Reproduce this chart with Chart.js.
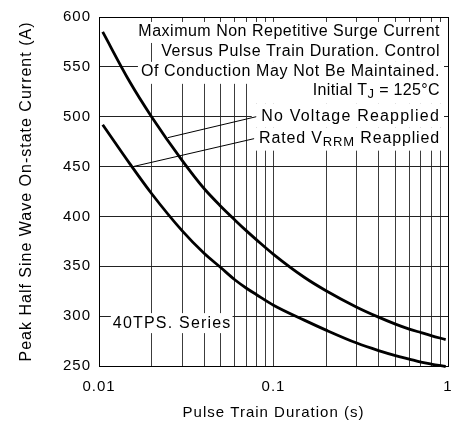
<!DOCTYPE html>
<html>
<head>
<meta charset="utf-8">
<script src="https://cdn.jsdelivr.net/npm/chart.js@4.4.0/dist/chart.umd.min.js"></script>
<style>
  html, body { margin: 0; padding: 0; background: #fff; }
</style>
</head>
<body>
<canvas id="surgeCanvas" width="454" height="427" style="width:454px;height:427px;display:block"></canvas>
<script>
/* ===== SURGE CURRENT CHART ===== */

// Datos
const pulseDuration    = [0.0105, 0.015, 0.02, 0.03, 0.04, 0.05, 0.06, 0.07, 0.08, 0.1, 0.15, 0.2, 0.3, 0.4, 0.5, 0.6, 0.7, 0.8, 0.97];
const noVoltageCurrent = [585, 535, 500, 456, 428, 410, 396.5, 385.5, 376.5, 362, 339, 325.5, 309, 299, 292, 287, 283.5, 280.5, 276.5];
const ratedVrrmCurrent = [492, 453, 423, 385.5, 363, 348.5, 336.5, 328, 321.5, 311, 296, 286, 273, 265.5, 260.5, 257, 254, 252, 249.5];

const xGridValues = [0.01, 0.02, 0.03, 0.04, 0.05, 0.06, 0.07, 0.08, 0.09,
                     0.1, 0.2, 0.3, 0.4, 0.5, 0.6, 0.7, 0.8, 0.9, 1];
const xTickValues = [0.01, 0.1, 1];
const xTickLabels = ['0.01', '0.1', '1'];
const yTickValues = [250, 300, 350, 400, 450, 500, 550, 600];

const FONT = '"Liberation Sans", Arial, Helvetica, sans-serif';

// Notas de texto (posición en unidades de datos)
const noteRight = 0.9;
const noteLines = [
    { parts: [['Maximum Non Repetitive Surge Current', false]], y: 585, ls: 0.5, up: 10, down: 11 },
    { parts: [['Versus Pulse Train Duration. Control', false]], y: 565, ls: 0.55, up: 10, down: 10 },
    { parts: [['Of Conduction May Not Be Maintained.', false]], y: 545, ls: 0.6, up: 10, down: 12 },
    { parts: [['Initial T', false], ['J', true], [' = 125°C', false]], y: 526, ls: 0.35, up: 13, down: 13, maskLeft: 0.075 },
    { parts: [['No Voltage Reapplied', false]], y: 500, ls: 1.2, up: 13, down: 11, maskLeft: 0.075 },
    { parts: [['Rated V', false], ['RRM', true], [' Reapplied', false]], y: 478, ls: 0.85, up: 11, down: 12, maskLeft: 0.075 }
];
const leaders = [
    { line: 4, x: 0.0248, y: 479 },
    { line: 5, x: 0.0157, y: 450 }
];
const seriesNote = { text: '40TPS. Series', x: 0.012, y: 293, ls: 1.2 };

function partFont(sub) {
    return sub ? '13px ' + FONT : '16px ' + FONT;
}

function drawParts(ctx, parts, right, cy, ls) {
    ctx.letterSpacing = ls + 'px';
    let total = 0;
    const widths = parts.map(p => {
        ctx.font = partFont(p[1]);
        const w = ctx.measureText(p[0]).width;
        total += w;
        return w;
    });
    let x = right - total;
    parts.forEach((p, i) => {
        ctx.font = partFont(p[1]);
        ctx.fillText(p[0], x, p[1] ? cy + 4 : cy);
        x += widths[i];
    });
}

const notesPlugin = {
    id: 'notes',
    beforeLayout(chart) { chart.ctx.letterSpacing = '1px'; },
    beforeDraw(chart) { chart.ctx.letterSpacing = '1px'; },
    beforeDatasetsDraw(chart) {
        const ctx = chart.ctx;
        const xs = chart.scales.x, ys = chart.scales.y;
        const right = xs.getPixelForValue(noteRight);
        const maskRight = chart.chartArea.right - 4;
        ctx.save();
        ctx.textBaseline = 'middle';
        ctx.textAlign = 'left';

        // Medir y tapar la rejilla
        const boxes = noteLines.map(line => {
            ctx.letterSpacing = line.ls + 'px';
            let total = 0;
            line.parts.forEach(p => { ctx.font = partFont(p[1]); total += ctx.measureText(p[0]).width; });
            const cy = ys.getPixelForValue(line.y);
            const left = line.maskLeft ? xs.getPixelForValue(line.maskLeft) : right - total - 3;
            return { cy, left, textLeft: right - total };
        });
        ctx.fillStyle = '#fff';
        noteLines.forEach((line, i) => {
            const b = boxes[i];
            ctx.fillRect(b.left, b.cy - line.up, maskRight - b.left, line.up + line.down);
        });

        // Nota de la serie
        ctx.letterSpacing = seriesNote.ls + 'px';
        ctx.font = '16px ' + FONT;
        const sx = xs.getPixelForValue(seriesNote.x);
        const sy = ys.getPixelForValue(seriesNote.y);
        const sw = ctx.measureText(seriesNote.text).width;
        ctx.fillRect(sx - 2, sy - 10, sw + 3, 20);
        ctx.fillStyle = '#000';
        ctx.fillText(seriesNote.text, sx, sy);

        // Texto
        noteLines.forEach((line, i) => {
            drawParts(ctx, line.parts, right, boxes[i].cy, line.ls);
        });

        // Líneas guía
        ctx.strokeStyle = '#000';
        ctx.lineWidth = 1;
        leaders.forEach(l => {
            const b = boxes[l.line];
            ctx.beginPath();
            ctx.moveTo(b.textLeft - 5, b.cy);
            ctx.lineTo(xs.getPixelForValue(l.x), ys.getPixelForValue(l.y));
            ctx.stroke();
        });
        ctx.restore();
    },
    afterDraw(chart) {
        const { left, top, right, bottom } = chart.chartArea;
        const ctx = chart.ctx;
        ctx.save();
        ctx.strokeStyle = '#000';
        ctx.lineWidth = 1;
        ctx.strokeRect(Math.round(left) + 0.5, Math.round(top) + 0.5,
                       Math.round(right) - Math.round(left), Math.round(bottom) - Math.round(top));
        ctx.restore();
    }
};

const toPoints = values => values.map((v, i) => ({ x: pulseDuration[i], y: v }));

new Chart(document.getElementById('surgeCanvas'), {
    type: 'line',
    data: {
        datasets: [
            {
                label: 'No Voltage Reapplied',
                data: toPoints(noVoltageCurrent),
                borderColor: '#000',
                borderWidth: 2.8,
                pointRadius: 0,
                fill: false,
                cubicInterpolationMode: 'monotone',
                clip: 4
            },
            {
                label: 'Rated VRRM Reapplied',
                data: toPoints(ratedVrrmCurrent),
                borderColor: '#000',
                borderWidth: 2.8,
                pointRadius: 0,
                fill: false,
                cubicInterpolationMode: 'monotone',
                clip: 4
            }
        ]
    },
    options: {
        responsive: false,
        animation: false,
        layout: { padding: { top: 15, right: 6, left: 0, bottom: 0 } },
        plugins: {
            legend: { display: false },
            tooltip: { enabled: false }
        },
        scales: {
            x: {
                type: 'logarithmic',
                min: 0.01,
                max: 1,
                afterBuildTicks: scale => {
                    scale.ticks = xGridValues.map(v => ({ value: v }));
                },
                afterFit: scale => {
                    scale.height = 61;
                    scale.paddingLeft = 0;
                    scale.paddingRight = 0;
                },
                grid: { color: '#3c3c3c', lineWidth: 1, drawTicks: false },
                border: { display: false },
                ticks: {
                    autoSkip: false,
                    maxRotation: 0,
                    padding: 12,
                    color: '#000',
                    font: { family: FONT, size: 15 },
                    callback: value => {
                        const i = xTickValues.findIndex(t => Math.abs(t - value) < 1e-9);
                        return i >= 0 ? xTickLabels[i] : '';
                    }
                },
                title: {
                    display: true,
                    text: 'Pulse Train Duration (s)',
                    color: '#000',
                    font: { family: FONT, size: 15 },
                    padding: { top: 0, bottom: 5 }
                }
            },
            y: {
                min: 250,
                max: 600,
                afterBuildTicks: scale => {
                    scale.ticks = yTickValues.map(v => ({ value: v }));
                },
                afterFit: scale => { scale.width = 99; },
                grid: { color: '#222', lineWidth: 1, drawTicks: false },
                border: { display: false },
                ticks: {
                    padding: 8,
                    color: '#000',
                    font: { family: FONT, size: 15 }
                },
                title: {
                    display: true,
                    text: 'Peak Half Sine Wave On-state Current (A)',
                    color: '#000',
                    font: { family: FONT, size: 16 },
                    padding: { top: 17, bottom: 0 }
                }
            }
        }
    },
    plugins: [notesPlugin]
});
</script>
</body>
</html>
